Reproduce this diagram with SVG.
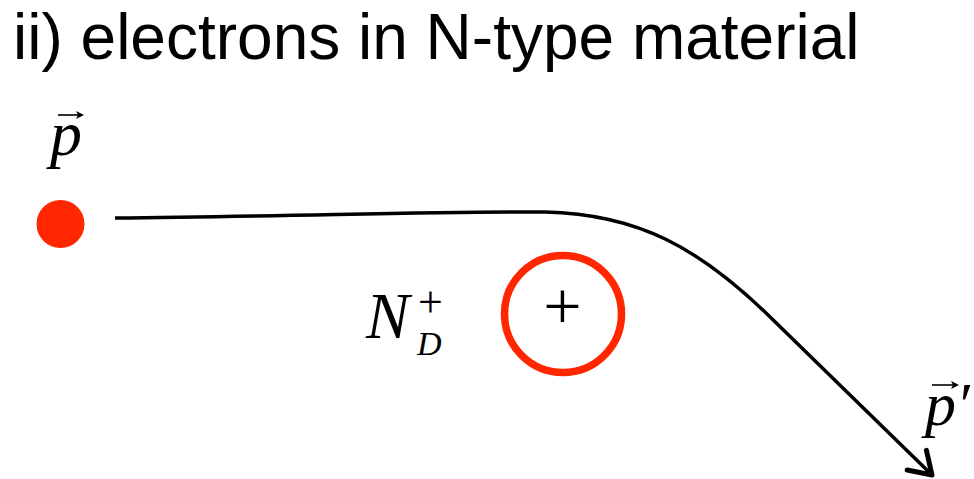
<svg xmlns="http://www.w3.org/2000/svg" width="974" height="479" viewBox="0 0 974 479">
<style>
.title{font-family:"Liberation Sans",Arial,sans-serif;font-size:64px;fill:#000}
.math{font-family:"Liberation Serif","Times New Roman",serif;font-style:italic;fill:#000}
.up{font-family:"Liberation Serif","Times New Roman",serif;fill:#000}
.conn{fill:none;stroke:#000;stroke-width:3.5}
.vec{fill:none;stroke:#000;stroke-width:1.6}
.red{fill:#ff2600}
.ring{fill:none;stroke:#ff2600;stroke-width:7.5}
</style>
<defs>
<marker id="open" markerUnits="userSpaceOnUse" markerWidth="40" markerHeight="40" refX="0" refY="0" viewBox="-22 -16 26 32" orient="auto" overflow="visible">
<path d="M-17,-11 L0,0 L-17,11" fill="none" stroke="#000" stroke-width="4" stroke-linecap="round" stroke-linejoin="round"/>
</marker>
</defs>
<text class="title" x="13" y="59">ii) electrons in N-type material</text>
<g id="particle">
<circle class="red" cx="60.5" cy="224" r="24"/>
<g id="p-label">
<text class="math" x="50" y="155" font-size="64">p</text>
<path class="vec" d="M58,115 L81,115"/>
<path d="M84,115 L76,111 L78,115 L76,119 Z" fill="#000"/>
</g>
</g>
<g id="donor">
<circle class="ring" cx="563" cy="314" r="58.5"/>
<text class="up" x="562.5" y="329" font-size="68" text-anchor="middle">+</text>
</g>
<g id="nd-label">
<text class="math" x="366" y="338" font-size="65">N</text>
<text class="up" x="418" y="317" font-size="44">+</text>
<text class="math" x="417" y="355" font-size="34">D</text>
</g>
<g id="pprime-label">
<text class="math" x="925" y="425" font-size="62">p′</text>
<path class="vec" d="M932,385 L956,385"/>
<path d="M959,385 L951,381 L953,385 L951,389 Z" fill="#000"/>
</g>
<g id="connectors">
<path class="conn" marker-end="url(#open)" d="M115,218 C300,216 460,211 545,212 C640,214 700,250 765,312 L932,475"/>
</g>
</svg>
